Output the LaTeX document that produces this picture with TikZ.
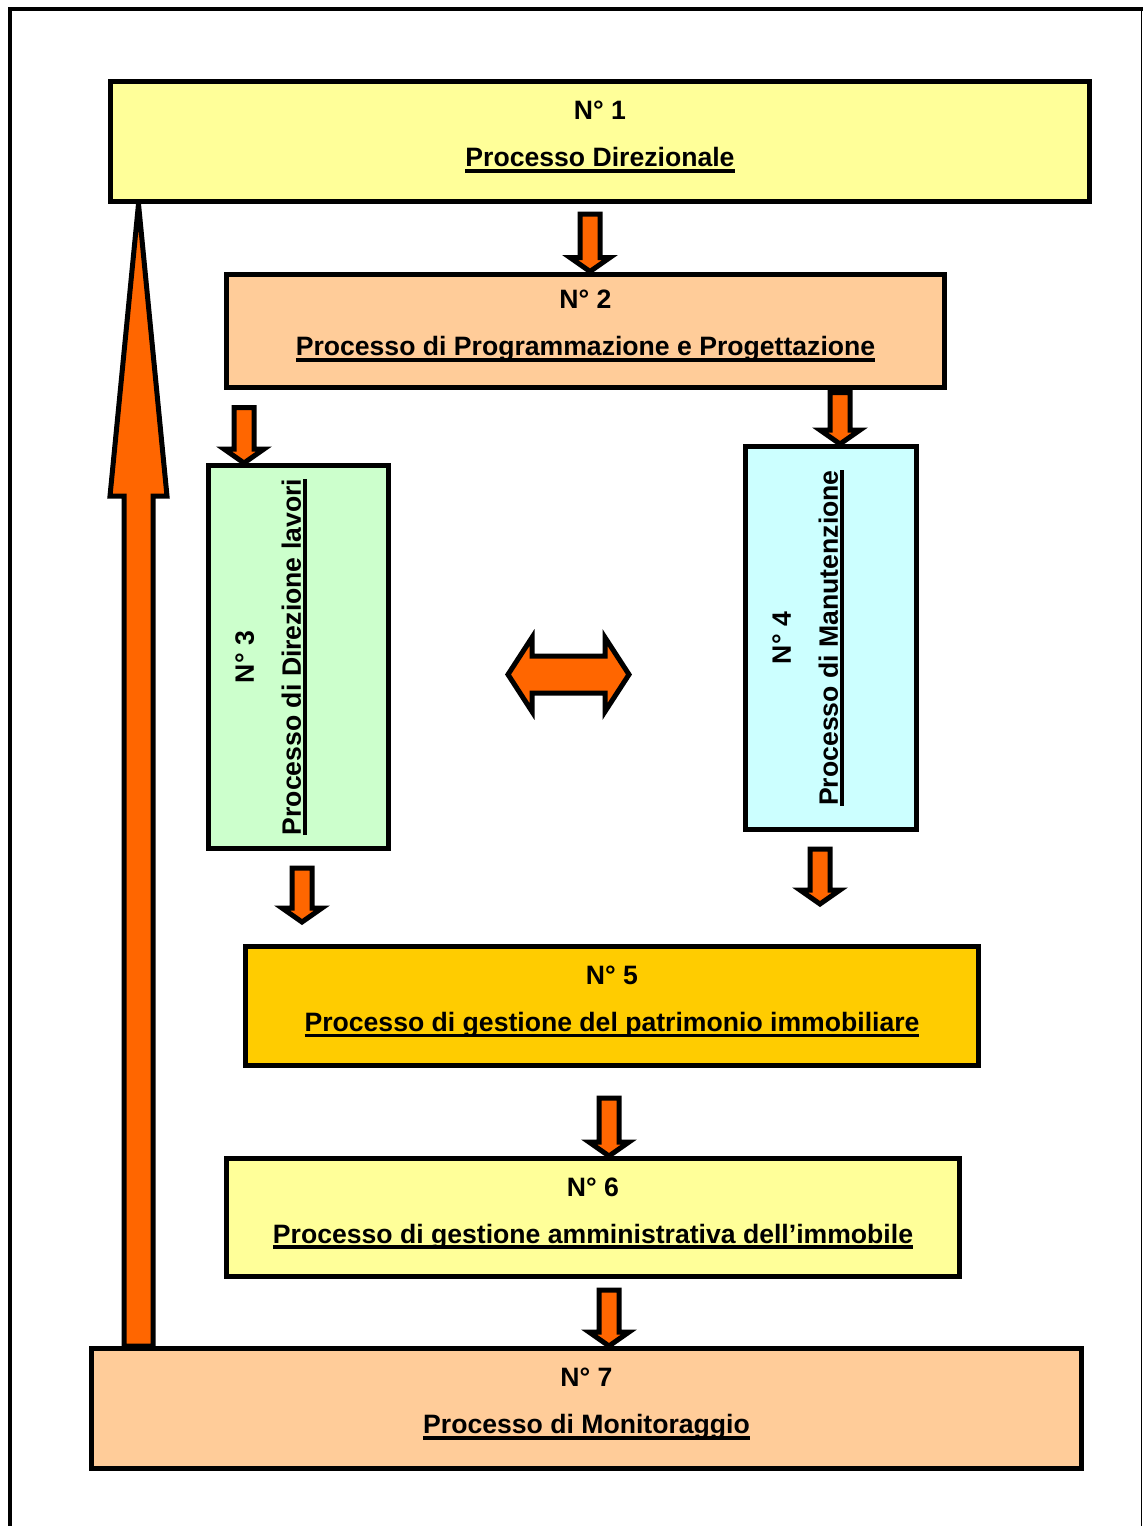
\documentclass[tikz,border=0pt]{standalone}
\usepackage{fontspec}
\setmainfont{Liberation Sans}
\usetikzlibrary{calc}
\definecolor{giallo}{HTML}{FFFF99}
\definecolor{pesca}{HTML}{FFCC99}
\definecolor{verde}{HTML}{CCFFCC}
\definecolor{azzurro}{HTML}{CCFFFF}
\definecolor{oro}{HTML}{FFCC00}
\definecolor{arancio}{HTML}{FF6600}
\newcommand{\sottolinea}[1]{\setbox0=\hbox{#1}\rlap{\rule[-2.8pt]{\wd0}{1.6pt}}\box0}
\tikzset{
  testo/.style={align=center, font=\bfseries\fontsize{13.3}{16}\selectfont},
  processo/.style={testo, draw, line width=2.5pt, inner sep=0pt, text depth=7.3pt},
  freccia/.style n args={3}{draw, fill=arancio, line width=2.5pt,
    to path={let \p1=(\tikztostart), \p2=(\tikztotarget) in
      (\x1-#1,\y1) -- (\x1-#1,{\y2+(#3)}) -- (\x1-#2,{\y2+(#3)}) -- (\x1,\y2)
      -- (\x1+#2,{\y2+(#3)}) -- (\x1+#1,{\y2+(#3)}) -- (\x1+#1,\y1) -- cycle}},
  giu/.style={freccia={5pt}{10pt}{7pt}},
  su/.style={freccia={7.25pt}{14.25pt}{-146pt}},
  doppia/.style={draw, fill=arancio, line width=2.5pt,
    to path={let \p1=(\tikztostart), \p2=(\tikztotarget) in
      (\x1,\y1) -- (\x1+12pt,\y1+18.5pt) -- (\x1+12pt,\y1+9.25pt)
      -- (\x2-12pt,\y1+9.25pt) -- (\x2-12pt,\y1+18.5pt) -- (\x2,\y1)
      -- (\x2-12pt,\y1-18.5pt) -- (\x2-12pt,\y1-9.25pt)
      -- (\x1+12pt,\y1-9.25pt) -- (\x1+12pt,\y1-18.5pt) -- cycle}}
}
\begin{document}
\begin{tikzpicture}[x=0.5pt, y=-0.5pt]
\useasboundingbox (0,0) rectangle (1143,1526);
\draw[line width=2pt] (10,1526) -- (10,9) -- (1143,9);
\draw[line width=0.5pt] (1141.5,9) -- (1141.5,1526);

\node[processo, fill=giallo, minimum width=489.5pt, minimum height=60pt] (p1) at (600,141.5)
  {N° 1\\[7.5pt]\sottolinea{Processo Direzionale}};
\node[processo, fill=pesca, minimum width=359pt, minimum height=56.5pt] (p2) at (585.5,330.5)
  {N° 2\\[7.5pt]\sottolinea{Processo di Programmazione e Progettazione}};
\node[processo, fill=verde, minimum width=90pt, minimum height=191.5pt] (p3) at (298.5,657) {};
\node[testo, rotate=90] (t3) at (271,657)
  {N° 3\\[7.5pt]\sottolinea{Processo di Direzione lavori}};
\node[processo, fill=azzurro, minimum width=85.5pt, minimum height=191.5pt] (p4) at (831,638) {};
\node[testo, rotate=90] (t4) at (808,638)
  {N° 4\\[7.5pt]\sottolinea{Processo di Manutenzione}};
\node[processo, fill=oro, minimum width=366.5pt, minimum height=59.5pt] (p5) at (612,1006)
  {N° 5\\[7.5pt]\sottolinea{Processo di gestione del patrimonio immobiliare}};
\node[processo, fill=giallo, minimum width=366.5pt, minimum height=59pt] (p6) at (593,1217.5)
  {N° 6\\[7.5pt]\sottolinea{Processo di gestione amministrativa dell’immobile}};
\node[processo, fill=pesca, minimum width=495pt, minimum height=60pt] (p7) at (586.5,1408.5)
  {N° 7\\[7.5pt]\sottolinea{Processo di Monitoraggio}};

\coordinate (dl) at (508,674.5);
\coordinate (dr) at (629,674.5);

\draw[giu] ($(p1.south)+(-10,10)$) to (p2.north);
\draw[giu] ($(p2.south west)+(20,18)$) to (p3.north);
\draw[giu] ($(p2.south east)+(-107,3)$) to (p4.north);
\draw[giu] ($(p3.south)+(3.5,17)$) to ($(p5.north)+(0,-22)$);
\draw[giu] ($(p4.south)+(-11,17)$) to ($(p5.north)+(0,-40)$);
\draw[giu] ($(p5.south)+(-3,30)$) to (p6.north);
\draw[giu] ($(p6.south)+(16,11)$) to (p7.north);
\draw[doppia] (dl) to (dr);
\draw[su] ($(p7.north west)+(49.5,0)$) to (p1.south);
\end{tikzpicture}
\end{document}
